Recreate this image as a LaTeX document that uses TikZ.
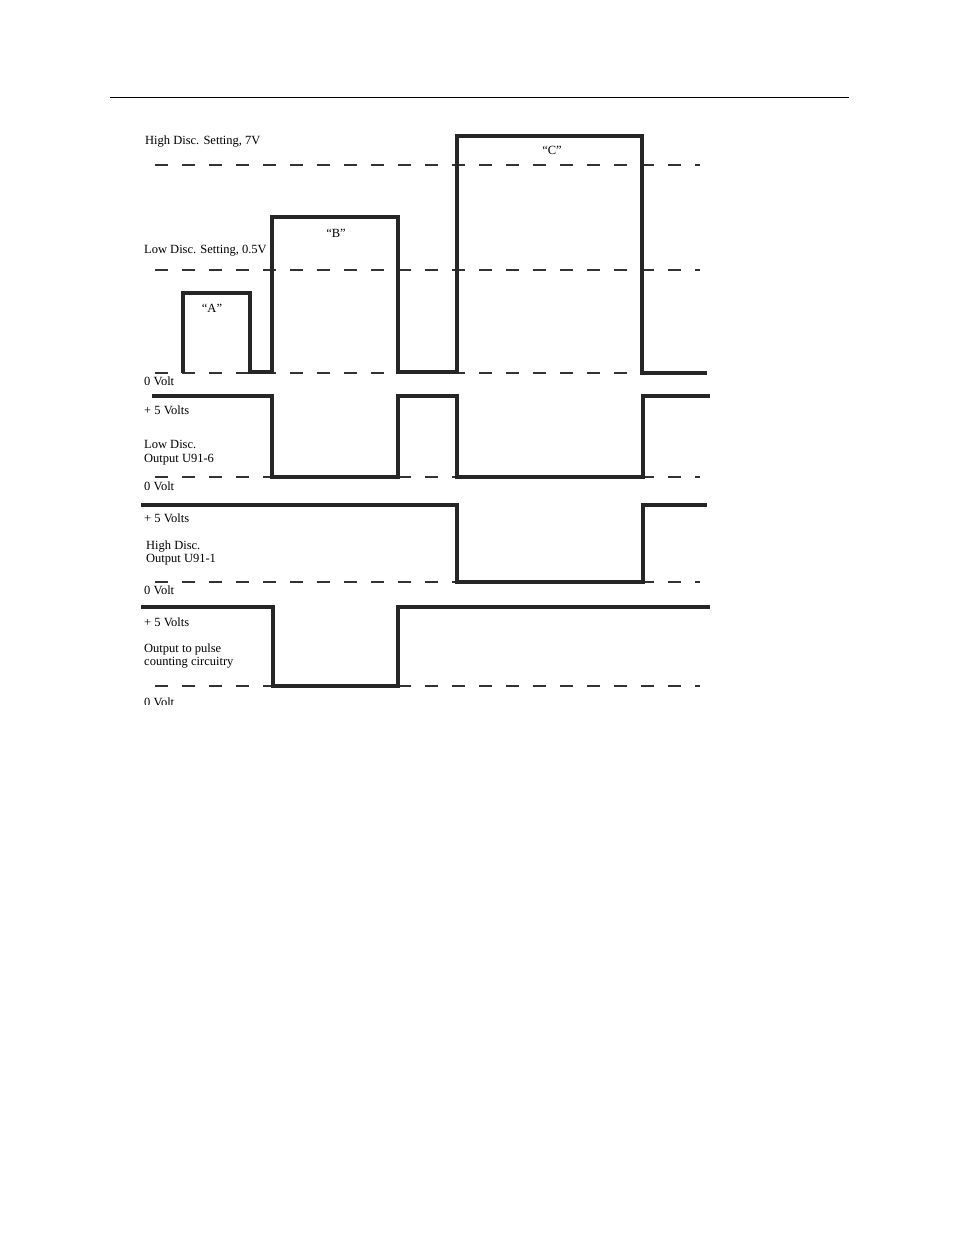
\documentclass[tikz,border=0pt]{standalone}
\usepackage{fontspec}
\setmainfont{Liberation Serif}
\usetikzlibrary{positioning}
\tikzset{
	signal/.style={line width=4.2pt, draw=black!85, line join=miter},
	level/.style={line width=1.6pt, draw=black!80, dash pattern=on 13pt off 14pt},
	rulex/.style={line width=0.9pt, draw=black},
	lbl/.style={anchor=base west, inner sep=0pt, font=\fontsize{12.5}{14}\selectfont},
	pulsename/.style={inner sep=0pt, font=\fontsize{12.5}{14}\selectfont},
}

\begin{document}
\begin{tikzpicture}[x=1pt,y=-1pt]
    \useasboundingbox[fill=white] (0,0) rectangle (954,1235);
    \draw[rulex] (110,97) -- (849,97);

    % threshold and zero levels
    \foreach \ly in {165,270,373,477,582,686}
        \draw[level] (155,\ly) -- (700,\ly);

    % input pulses
    \draw[signal] (183,373) -- (183,293) -- (250,293) -- (250,372) -- (272,372)
        -- (272,217) -- (398,217) -- (398,372) -- (457,372) -- (457,136)
        -- (642,136) -- (642,373) -- (707,373);
    \node[pulsename] (nA) at (212,308) {``A''};
    \node[pulsename] (nB) at (336,233) {``B''};
    \node[pulsename] (nC) at (552,150) {``C''};

    \node[lbl] (hiset) at (145,144) {High Disc. Setting, 7V};
    \node[lbl] (loset) at (144,253) {Low Disc. Setting, 0.5V};
    \node[lbl] (zero1) at (144,385) {0 Volt};

    % low disc. output
    \draw[signal] (152,396) -- (272,396) -- (272,477) -- (398,477) -- (398,396)
        -- (457,396) -- (457,477) -- (643,477) -- (643,396) -- (710,396);
    \node[lbl] (five2) at (144,414) {+ 5 Volts};
    \node[lbl] (lo2a) at (144,448) {Low Disc.};
    \node[lbl] (lo2b) at (144,462) {Output U91-6};
    \node[lbl] (zero2) at (144,490) {0 Volt};

    % high disc. output
    \draw[signal] (141,505) -- (457,505) -- (457,582) -- (643,582) -- (643,505)
        -- (707,505);
    \node[lbl] (five3) at (144,522) {+ 5 Volts};
    \node[lbl] (hi3a) at (146,549) {High Disc.};
    \node[lbl] (hi3b) at (146,562) {Output U91-1};
    \node[lbl] (zero3) at (144,594) {0 Volt};

    % output to counter
    \draw[signal] (141,607) -- (273,607) -- (273,686) -- (398,686) -- (398,607)
        -- (710,607);
    \node[lbl] (five4) at (144,626) {+ 5 Volts};
    \node[lbl] (out4a) at (144,652) {Output to pulse};
    \node[lbl] (out4b) at (144,665) {counting circuitry};
    \begin{scope}
        \clip (100,690) rectangle (300,704);
        \node[lbl] (zero4) at (144,706) {0 Volt};
    \end{scope}
\end{tikzpicture}
\end{document}
